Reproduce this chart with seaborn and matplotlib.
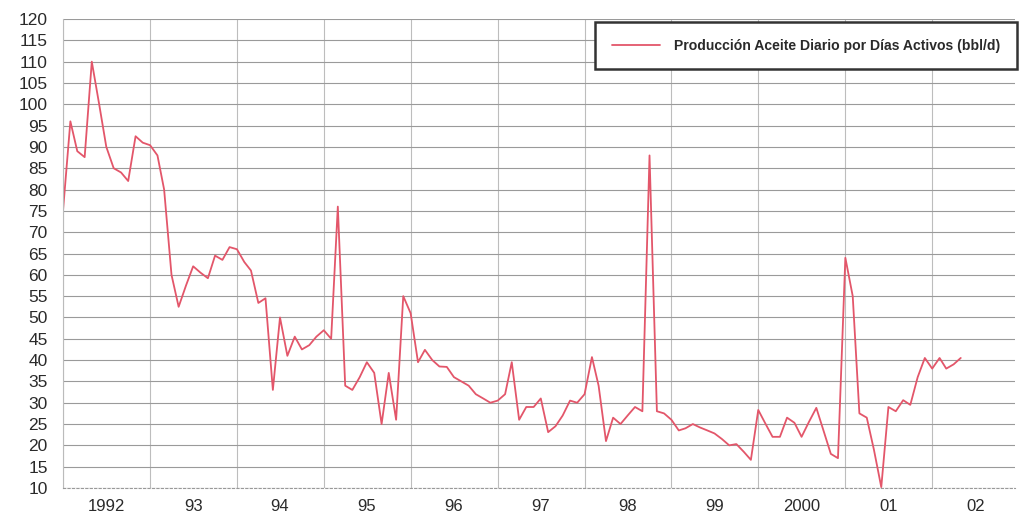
import pandas as pd
import numpy as np
import matplotlib
matplotlib.use('Agg')
import matplotlib.pyplot as plt
import seaborn as sns

# --- Data (monthly) ---
START = '1992-01-01'
oil_rate = [
    75, 96, 89, 87.6, 110, 100, 90, 85, 84, 82, 92.5, 91,            # 1992
    90.4, 88, 80, 60, 52.5, 57.5, 62, 60.5, 59.2, 64.5, 63.5, 66.5,  # 1993
    66, 63, 61, 53.4, 54.5, 33, 50, 41, 45.5, 42.5, 43.5, 45.5,      # 1994
    47, 45, 76, 34, 33, 36, 39.5, 37, 25, 37, 26, 55,                # 1995
    51, 39.5, 42.4, 40, 38.5, 38.4, 36, 35, 34, 32, 31, 30,          # 1996
    30.5, 32, 39.5, 26, 29, 29, 31, 23.1, 24.5, 27, 30.5, 30,        # 1997
    32, 40.7, 34, 21, 26.5, 25, 27, 29, 28, 88, 28, 27.5,            # 1998
    26, 23.5, 24, 25, 24.2, 23.5, 22.8, 21.5, 20, 20.3, 18.5, 16.6,  # 1999
    28.3, 25, 22, 22, 26.5, 25.3, 22, 25.5, 28.8, 23.5, 18, 17,      # 2000
    64, 55, 27.5, 26.5, 19, 10.2, 29, 28, 30.6, 29.5, 36, 40.5,      # 2001
    38, 40.5, 38, 39, 40.5,                                          # 2002
]
years = list(range(1992, 2003))
year_labels = ['1992', '93', '94', '95', '96', '97', '98', '99', '2000', '01', '02']
series_name = 'Producción Aceite Diario por Días Activos (bbl/d)'

df = pd.DataFrame({
    'fecha': pd.date_range(START, periods=len(oil_rate), freq='MS'),
    'valor': oil_rate,
})

sns.set_style('white')
plt.rcParams['font.family'] = ['Liberation Sans', 'DejaVu Sans']

fig = plt.figure(figsize=(10.23, 5.2), dpi=100)
ax = fig.add_axes([63 / 1023, 1 - 488 / 520, (1015 - 63) / 1023, (488 - 19) / 520])

sns.lineplot(data=df, x='fecha', y='valor', ax=ax, color='#e3566a',
             linewidth=1.3, label=series_name)

ax.set_ylim(10, 120)
ax.set_xlim(pd.Timestamp('1992-01-01'), pd.Timestamp('2002-12-15'))

# y ticks
ax.set_yticks(np.arange(10, 121, 5))
ax.set_yticklabels([str(v) for v in range(10, 121, 5)], fontsize=12.5,
                   color='#2a2a2a')
ax.yaxis.set_minor_locator(matplotlib.ticker.MultipleLocator(1))

# x: gridlines at year starts, labels at mid-year
ax.set_xticks([pd.Timestamp(f'{y}-01-01') for y in years])
ax.set_xticklabels([])
ax.set_xticks([pd.Timestamp(f'{y}-07-01') for y in years], minor=True)
ax.set_xticklabels(year_labels, minor=True, fontsize=12, color='#2a2a2a')

ax.tick_params(axis='x', which='major', length=0)
ax.tick_params(axis='x', which='minor', length=0, pad=8)
ax.tick_params(axis='y', which='major', length=3, color='#aaaaaa', pad=8)
ax.tick_params(axis='y', which='minor', length=2, color='#bbbbbb')

ax.grid(axis='y', which='major', color='#9a9a9a', linewidth=0.8)
ax.grid(axis='x', which='major', color='#bdbdbd', linewidth=0.8)

ax.set_xlabel('')
ax.set_ylabel('')

for side in ['top', 'right']:
    ax.spines[side].set_visible(False)
ax.spines['left'].set_color('#bbbbbb')
ax.spines['bottom'].set_color('#999999')
ax.spines['bottom'].set_linestyle((0, (2, 2)))

leg = ax.legend(loc='upper right', bbox_to_anchor=(1.002, 0.994), frameon=True,
                fancybox=False, fontsize=10.1, handlelength=3.4,
                borderpad=1.2, handletextpad=1.0, borderaxespad=0.0)
leg.get_frame().set_edgecolor('#333333')
leg.get_frame().set_linewidth(1.8)
leg.get_frame().set_facecolor('white')
leg.get_frame().set_alpha(1)
for t in leg.get_texts():
    t.set_fontweight('bold')
    t.set_color('#2a2a2a')

fig.savefig('out.png', dpi=100)
